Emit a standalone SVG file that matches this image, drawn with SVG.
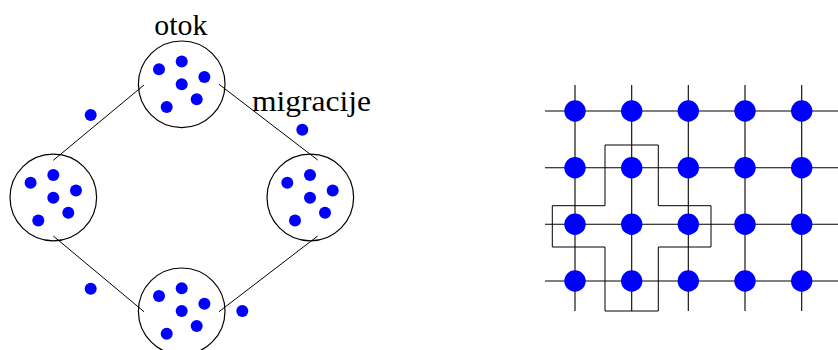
<svg xmlns="http://www.w3.org/2000/svg" xmlns:xlink="http://www.w3.org/1999/xlink" width="838" height="350" viewBox="0 0 838 350">
<style>
.isl{fill:none;stroke:#000;stroke-width:1.2}
.dot{fill:#0000ff}
.ln{stroke:#000;stroke-width:1;fill:none}
.gl{stroke:#000;stroke-width:1.1;fill:none}
</style>
<defs>
<g id="pop">
<circle class="dot" cx="-22.7" cy="-15" r="6"/>
<circle class="dot" cx="0" cy="-22.7" r="6"/>
<circle class="dot" cx="22.7" cy="-7.3" r="6"/>
<circle class="dot" cx="0" cy="0" r="6"/>
<circle class="dot" cx="15" cy="15" r="6"/>
<circle class="dot" cx="-15" cy="22.7" r="6"/>
</g>
</defs>
<rect width="838" height="350" fill="#fff"/>
<g id="connectors">
<line class="ln" x1="144" y1="85" x2="53.3" y2="160.3"/>
<line class="ln" x1="219" y1="84.3" x2="317.7" y2="160"/>
<line class="ln" x1="53.3" y1="236" x2="144" y2="311.7"/>
<line class="ln" x1="317.7" y1="236" x2="219" y2="311.7"/>
</g>
<g id="island-top">
<circle class="isl" cx="181.7" cy="84.3" r="43.3"/>
<use xlink:href="#pop" x="181.7" y="84.3"/>
</g>
<g id="island-left">
<circle class="isl" cx="53.3" cy="197.5" r="43.3"/>
<use xlink:href="#pop" x="53.3" y="197.8"/>
</g>
<g id="island-right">
<circle class="isl" cx="310.3" cy="197.5" r="43.3"/>
<use xlink:href="#pop" x="310" y="197.8"/>
</g>
<g id="island-bottom">
<circle class="isl" cx="181.7" cy="311.3" r="43.3"/>
<use xlink:href="#pop" x="181.7" y="311"/>
</g>
<g id="migrants">
<circle class="dot" cx="90.7" cy="115" r="6"/>
<circle class="dot" cx="302.3" cy="129.7" r="6"/>
<circle class="dot" cx="90.7" cy="288.7" r="6"/>
<circle class="dot" cx="242.3" cy="311" r="6"/>
</g>
<g id="labels">
<text x="154.3" y="34.5" font-family="Liberation Serif" font-size="29" fill="#000" textLength="53" lengthAdjust="spacingAndGlyphs">otok</text>
<text x="252" y="110.5" font-family="Liberation Serif" font-size="29" fill="#000" textLength="119" lengthAdjust="spacingAndGlyphs">migracije</text>
</g>
<g id="grid">
<line class="gl" x1="545" y1="111" x2="838" y2="111"/>
<line class="gl" x1="545" y1="167.7" x2="838" y2="167.7"/>
<line class="gl" x1="545" y1="224.3" x2="838" y2="224.3"/>
<line class="gl" x1="545" y1="281" x2="838" y2="281"/>
<line class="gl" x1="575" y1="85" x2="575" y2="311"/>
<line class="gl" x1="631.7" y1="85" x2="631.7" y2="311"/>
<line class="gl" x1="688.3" y1="85" x2="688.3" y2="311"/>
<line class="gl" x1="745" y1="85" x2="745" y2="311"/>
<line class="gl" x1="801.7" y1="85" x2="801.7" y2="311"/>
</g>
<g id="neighbourhood">
<polygon class="ln" points="605,145 658.3,145 658.3,205.7 711,205.7 711,247 658.3,247 658.3,311 605,311 605,247 552.3,247 552.3,205.7 605,205.7"/>
</g>
<g id="grid-nodes">
<g id="row1">
<circle class="dot" cx="575" cy="111" r="10.7"/><circle class="dot" cx="631.7" cy="111" r="10.7"/><circle class="dot" cx="688.3" cy="111" r="10.7"/><circle class="dot" cx="745" cy="111" r="10.7"/><circle class="dot" cx="801.7" cy="111" r="10.7"/>
</g>
<g id="row2">
<circle class="dot" cx="575" cy="167.7" r="10.7"/><circle class="dot" cx="631.7" cy="167.7" r="10.7"/><circle class="dot" cx="688.3" cy="167.7" r="10.7"/><circle class="dot" cx="745" cy="167.7" r="10.7"/><circle class="dot" cx="801.7" cy="167.7" r="10.7"/>
</g>
<g id="row3">
<circle class="dot" cx="575" cy="224.3" r="10.7"/><circle class="dot" cx="631.7" cy="224.3" r="10.7"/><circle class="dot" cx="688.3" cy="224.3" r="10.7"/><circle class="dot" cx="745" cy="224.3" r="10.7"/><circle class="dot" cx="801.7" cy="224.3" r="10.7"/>
</g>
<g id="row4">
<circle class="dot" cx="575" cy="281" r="10.7"/><circle class="dot" cx="631.7" cy="281" r="10.7"/><circle class="dot" cx="688.3" cy="281" r="10.7"/><circle class="dot" cx="745" cy="281" r="10.7"/><circle class="dot" cx="801.7" cy="281" r="10.7"/>
</g>
</g>
</svg>
